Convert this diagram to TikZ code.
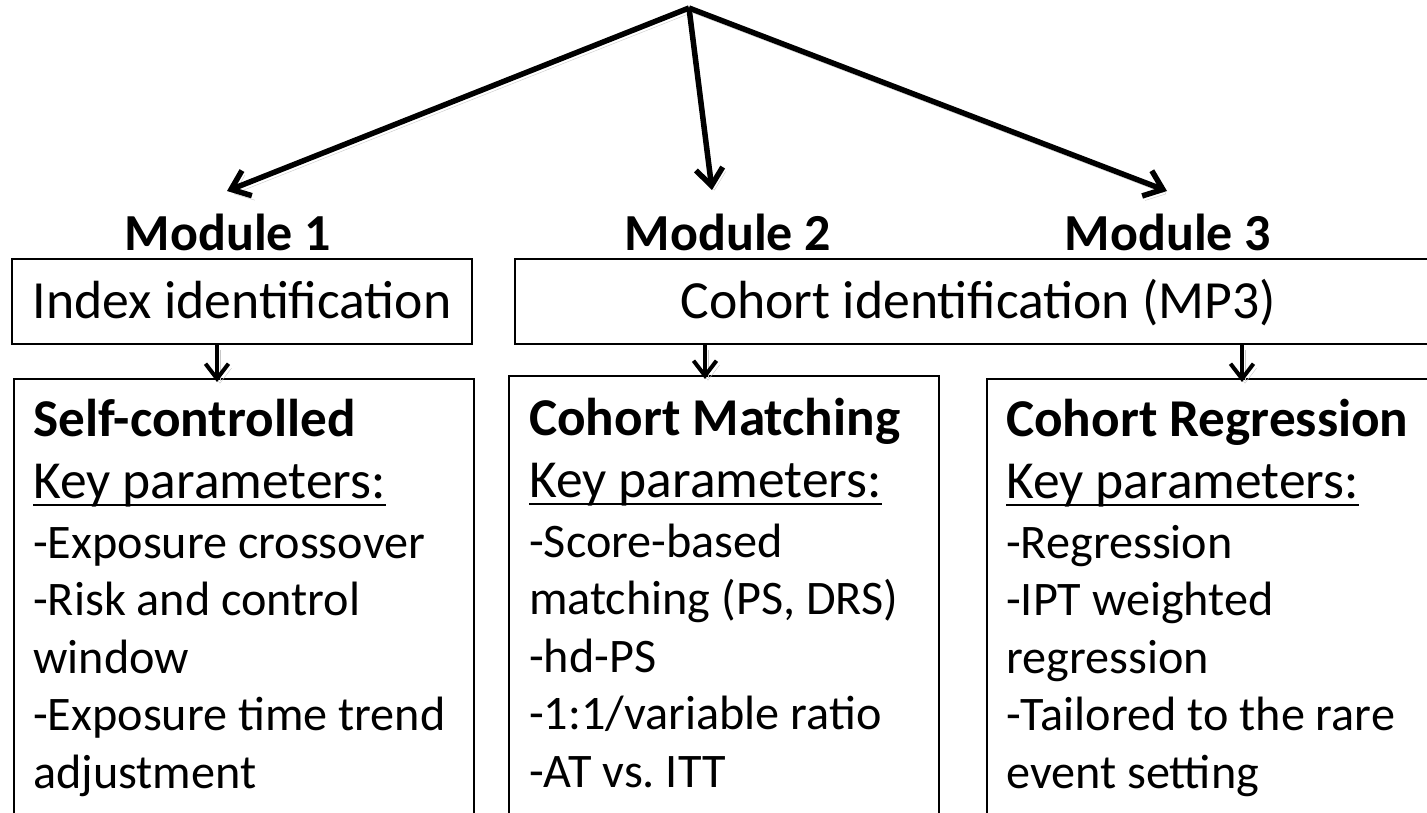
\documentclass[tikz,border=0pt]{standalone}
\usepackage{fontspec}
\setmainfont{Carlito}
\usetikzlibrary{arrows.meta}
\frenchspacing
% underline drawn through the descenders, as in slide text
\newsavebox\keybox
\newcommand\keyul[1]{\sbox\keybox{#1}\rlap{\rule[-8pt]{\wd\keybox}{2.2pt}}\usebox\keybox}
\newcommand\boxtitle{\fontsize{53.2}{57.5}\selectfont\bfseries}
\newcommand\keyline{\fontsize{53.5}{57.5}\selectfont}
\begin{document}
\begin{tikzpicture}[x=1pt,y=-1pt,
  shadowed/.style={preaction={draw=black!22,transform canvas={shift={(3,4.5)}}}},
  bigarrow/.style={line width=5.5pt,-{Straight Barb[length=17pt,width=27pt,line width=5.5pt]},shadowed},
  smallarrow/.style={line width=4pt,-{Straight Barb[length=15pt,width=23pt,line width=4pt]},shadowed,shorten >=-4pt},
  modlbl/.style={font=\fontsize{52}{60}\selectfont\bfseries,anchor=base,inner sep=0pt},
  idbox/.style={draw,line width=2.2pt,minimum height=85pt,anchor=north west,inner sep=0pt,
    font=\fontsize{53.7}{60}\selectfont,text height=38pt,text depth=4pt},
  lowbox/.style={draw,line width=2pt,anchor=north west,minimum height=480pt,inner sep=0pt},
  lowtext/.style={anchor=base west,align=left,inner sep=0pt,font=\fontsize{48.2}{57.5}\selectfont}]
\useasboundingbox (0,0) rectangle (1427,812);
\clip (0,0) rectangle (1427,812);

% fan of arrows towards the three modules
\coordinate (apex) at (689,8);
\coordinate (t1) at (227,191);
\coordinate (t2) at (712,190);
\coordinate (t3) at (1167,191);
\draw[bigarrow] (apex) -- (t1);
\draw[bigarrow] (apex) -- (t2);
\draw[bigarrow] (apex) -- (t3);

% module labels
\node[modlbl] (m1) at (228,250) {Module 1};
\node[modlbl] (m2) at (728,250) {Module 2};
\node[modlbl] (m3) at (1168,250) {Module 3};

% identification boxes
\node[idbox,minimum width=460pt] (idx) at (11,258) {Index identification};
\node[idbox,minimum width=926pt] (coh) at (514,258) {Cohort identification (MP3)};

% analysis boxes
\node[lowbox,minimum width=460pt] (low1) at (13,378) {};
\node[lowbox,minimum width=430pt] (low2) at (508,375) {};
\node[lowbox,minimum width=460pt] (low3) at (986,378) {};

% box contents, placed by the baseline of their last line
\node[lowtext] (txt1) at (33,788) {{\boxtitle Self-controlled}\\[4.5pt]
  {\keyline\keyul{Key parameters:}}\\[2.5pt]
  -Exposure crossover\\
  -Risk and control\\
  window\\
  -Exposure time trend\\
  adjustment};
\node[lowtext] (txt2) at (529,787) {{\boxtitle Cohort Matching}\\[4.5pt]
  {\keyline\keyul{Key parameters:}}\\[2.5pt]
  -Score-based\\
  matching (PS, DRS)\\
  -hd-PS\\
  -1:1/variable ratio\\
  -AT vs. ITT};
\node[lowtext] (txt3) at (1006,788) {{\boxtitle Cohort Regression}\\[4.5pt]
  {\keyline\keyul{Key parameters:}}\\[2.5pt]
  -Regression\\
  -IPT weighted\\
  regression\\
  -Tailored to the rare\\
  event setting};

% short arrows from identification to analysis boxes
\coordinate (c1) at (217,0);
\coordinate (c2) at (705,0);
\coordinate (c3) at (1242,0);
\draw[smallarrow] (idx.south -| c1) -- (low1.north -| c1);
\draw[smallarrow] (coh.south -| c2) -- (low2.north -| c2);
\draw[smallarrow] (coh.south -| c3) -- (low3.north -| c3);
\end{tikzpicture}
\end{document}
